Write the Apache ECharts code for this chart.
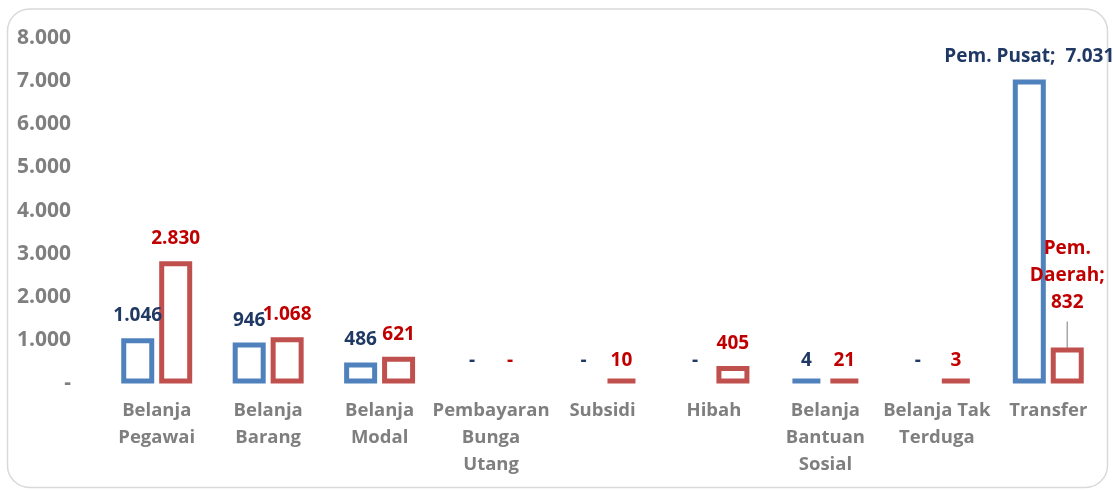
<!DOCTYPE html>
<html>
<head>
<meta charset="utf-8">
<script src="https://cdn.jsdelivr.net/npm/echarts@6/dist/echarts.min.js"></script>
<style>
  html, body { margin: 0; padding: 0; background: #fff; }
  #main { width: 1113px; height: 490px; }
</style>
</head>
<body>
<div id="main"></div>
<script>
// kategori belanja
var categories = ['Belanja\nPegawai', 'Belanja\nBarang', 'Belanja\nModal', 'Pembayaran\nBunga\nUtang',
  'Subsidi', 'Hibah', 'Belanja\nBantuan\nSosial', 'Belanja Tak\nTerduga', 'Transfer'];
// Pem. Pusat
var pusat = [1046, 946, 486, 0, 0, 0, 4, 0, 7031];
// Pem. Daerah
var daerah = [2830, 1068, 621, 0, 10, 405, 21, 3, 832];
var yTicks = [0, 1000, 2000, 3000, 4000, 5000, 6000, 7000, 8000];

var FONT = 'Open Sans';
var LABEL_GAP = 13;

function fmt(v) {
  if (v === 0) return '-';
  return String(v).replace(/\B(?=(\d{3})+(?!\d))/g, '.');
}

function buildData(values, seriesName) {
  return values.map(function (v, i) {
    var item = { value: v };
    if (v === 0) item.itemStyle = { borderWidth: 0, color: 'rgba(0,0,0,0)' };
    // batang sangat kecil diberi tinggi minimum, label tetap dekat sumbu
    if (v < 100) item.label = { distance: LABEL_GAP - 5 };
    if (i === categories.length - 1) {
      if (seriesName === 'Pem. Pusat') {
        item.label = { formatter: 'Pem. Pusat;  ' + fmt(v) };
      } else {
        item.label = { formatter: 'Pem.\nDaerah;\n' + fmt(v), lineHeight: 27, padding: [0, 0, 5, 0] };
        item.labelLine = { show: true, lineStyle: { color: '#a6a6a6', width: 1.5 } };
      }
    }
    return item;
  });
}

var chart = echarts.init(document.getElementById('main'));

chart.setOption({
  animation: false,
  grid: { left: 101, right: 9, top: 37.7, bottom: 106.5, containLabel: false },
  graphic: [{
    type: 'rect',
    shape: { x: 7.5, y: 9, width: 1100, height: 478.5, r: 22 },
    style: { fill: 'none', stroke: '#d9d9d9', lineWidth: 1.5 },
    silent: true,
    z: -1
  }],
  xAxis: {
    type: 'category',
    data: categories,
    axisLine: { show: false },
    axisTick: { show: false },
    axisLabel: {
      interval: 0,
      margin: 14,
      color: '#7f7f7f',
      fontFamily: FONT,
      fontWeight: 'bold',
      fontSize: 18.5,
      lineHeight: 27
    }
  },
  yAxis: {
    type: 'value',
    min: yTicks[0],
    max: yTicks[yTicks.length - 1],
    interval: 1000,
    splitLine: { show: false },
    axisLine: { show: false },
    axisTick: { show: false },
    axisLabel: {
      margin: 30,
      color: '#7f7f7f',
      fontFamily: FONT,
      fontWeight: 'bold',
      fontSize: 21,
      formatter: fmt
    }
  },
  series: [
    {
      name: 'Pem. Pusat',
      type: 'bar',
      barWidth: 33,
      barGap: '15%',
      barMinHeight: 5,
      data: buildData(pusat, 'Pem. Pusat'),
      itemStyle: { color: '#ffffff', borderColor: '#4F81BD', borderWidth: 5 },
      label: {
        show: true,
        position: 'top',
        distance: LABEL_GAP,
        color: '#1F3864',
        fontFamily: FONT,
        fontWeight: 'bold',
        fontSize: 19,
        formatter: function (p) { return fmt(p.value); }
      }
    },
    {
      name: 'Pem. Daerah',
      type: 'bar',
      barWidth: 33,
      barMinHeight: 5,
      data: buildData(daerah, 'Pem. Daerah'),
      itemStyle: { color: '#ffffff', borderColor: '#C0504D', borderWidth: 5 },
      label: {
        show: true,
        position: 'top',
        distance: LABEL_GAP,
        color: '#C00000',
        fontFamily: FONT,
        fontWeight: 'bold',
        fontSize: 19,
        formatter: function (p) { return fmt(p.value); }
      },
      labelLine: { show: false },
      labelLayout: function (p) {
        if (p.dataIndex === categories.length - 1) return { dy: -13 };
        return {};
      }
    }
  ]
});
</script>
</body>
</html>
